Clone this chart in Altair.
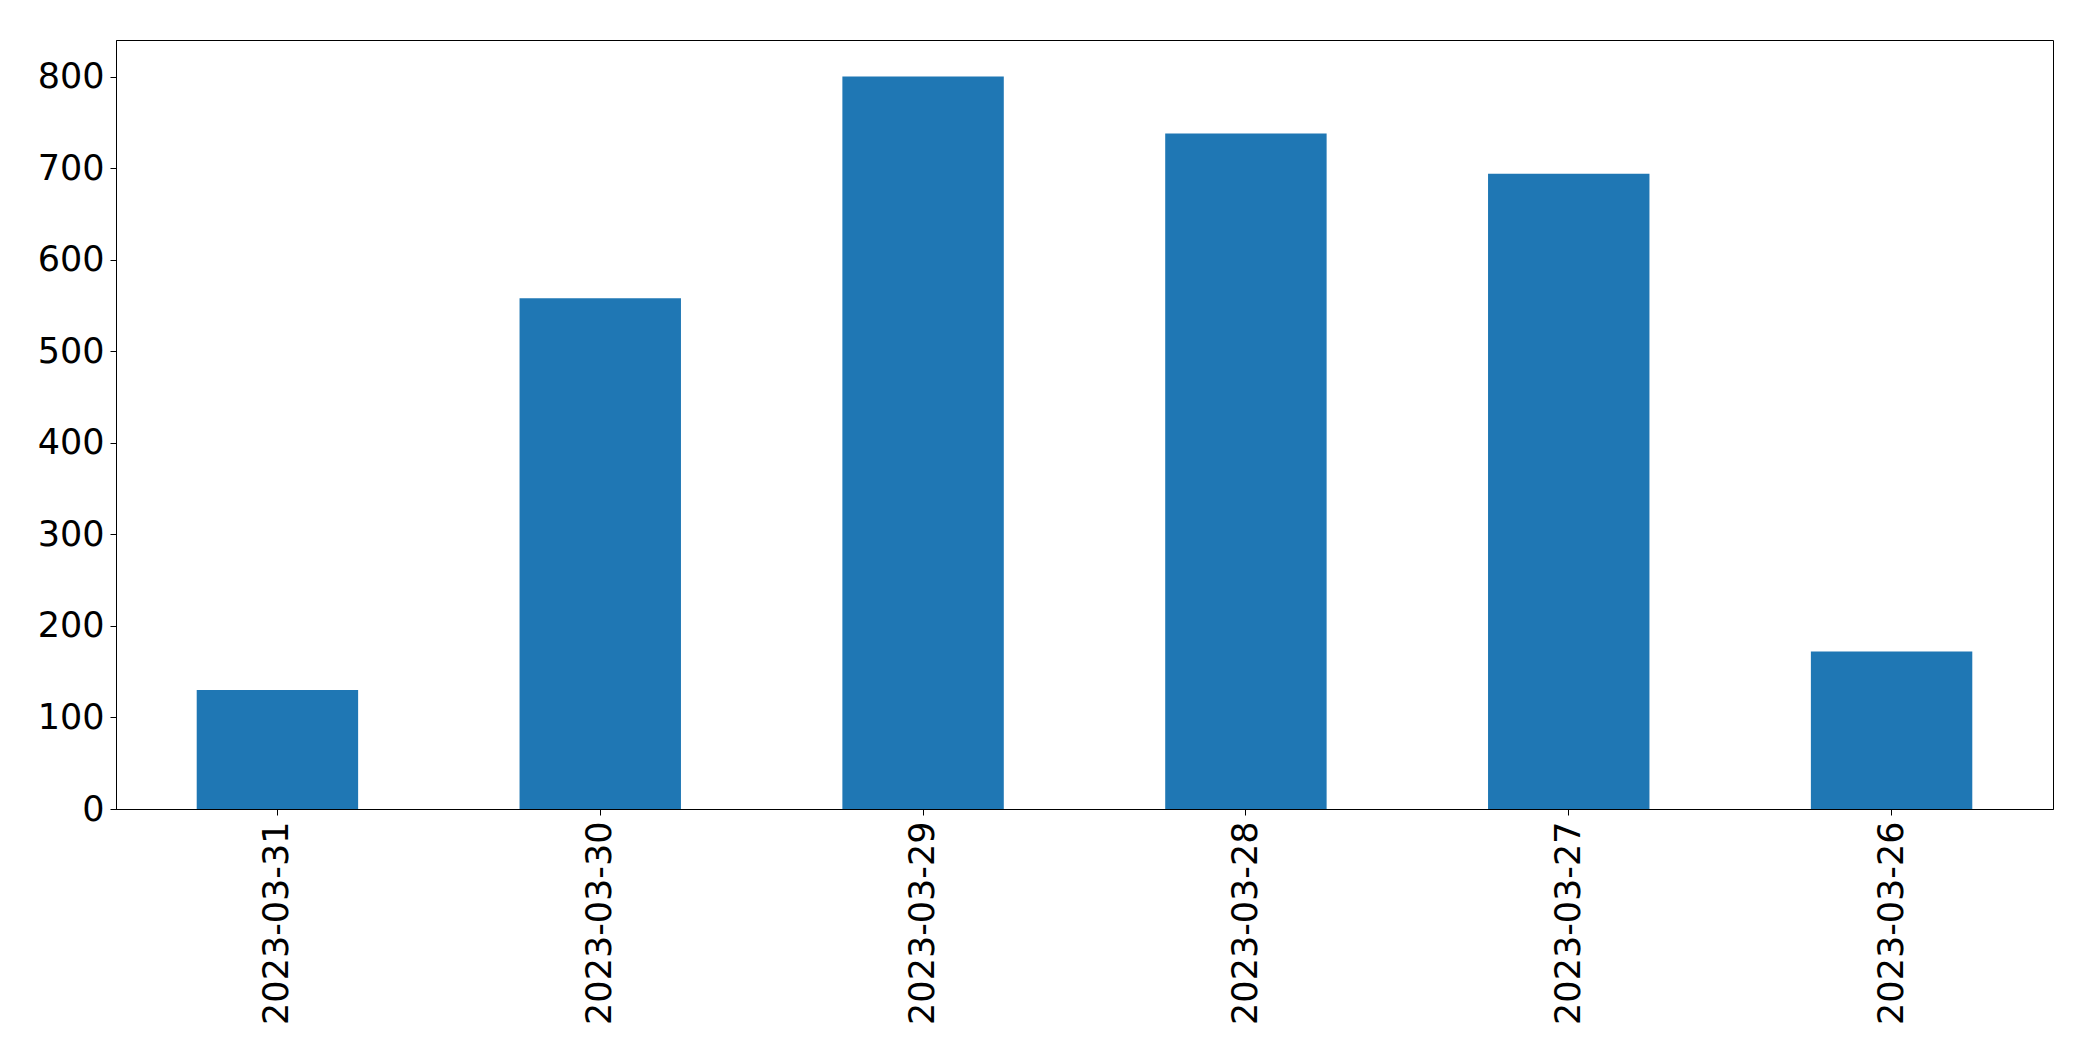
import altair as alt
import pandas as pd

dates = ["2023-03-31", "2023-03-30", "2023-03-29", "2023-03-28", "2023-03-27", "2023-03-26"]
counts = [130, 558, 800, 738, 694, 172]

df = pd.DataFrame({"date": dates, "count": counts})

chart = alt.Chart(df).mark_bar(color="#1f77b4").encode(
    x=alt.X("date:N", sort=dates, title=None,
            scale=alt.Scale(paddingInner=0.5, paddingOuter=0.25),
            axis=alt.Axis(labelAngle=-90, labelFontSize=35, labelColor="black",
                          domainColor="black", tickColor="black", tickSize=6,
                          labelPadding=6, labelLimit=400, labelFont="DejaVu Sans")),
    y=alt.Y("count:Q", title=None,
            scale=alt.Scale(domain=[0, 840], nice=False),
            axis=alt.Axis(values=[0, 100, 200, 300, 400, 500, 600, 700, 800],
                          grid=False, labelFontSize=35, labelColor="black",
                          domainColor="black", tickColor="black", tickSize=6,
                          labelPadding=6, labelFont="DejaVu Sans")),
).properties(
    width=1937, height=769,
    background="white",
    autosize=alt.AutoSizeParams(type="none"),
    padding={"left": 108, "top": 32, "right": 30, "bottom": 230},
).configure_view(
    stroke="black", strokeWidth=1
)

chart.save("out.html", embed_options={"renderer": "svg", "actions": False})
